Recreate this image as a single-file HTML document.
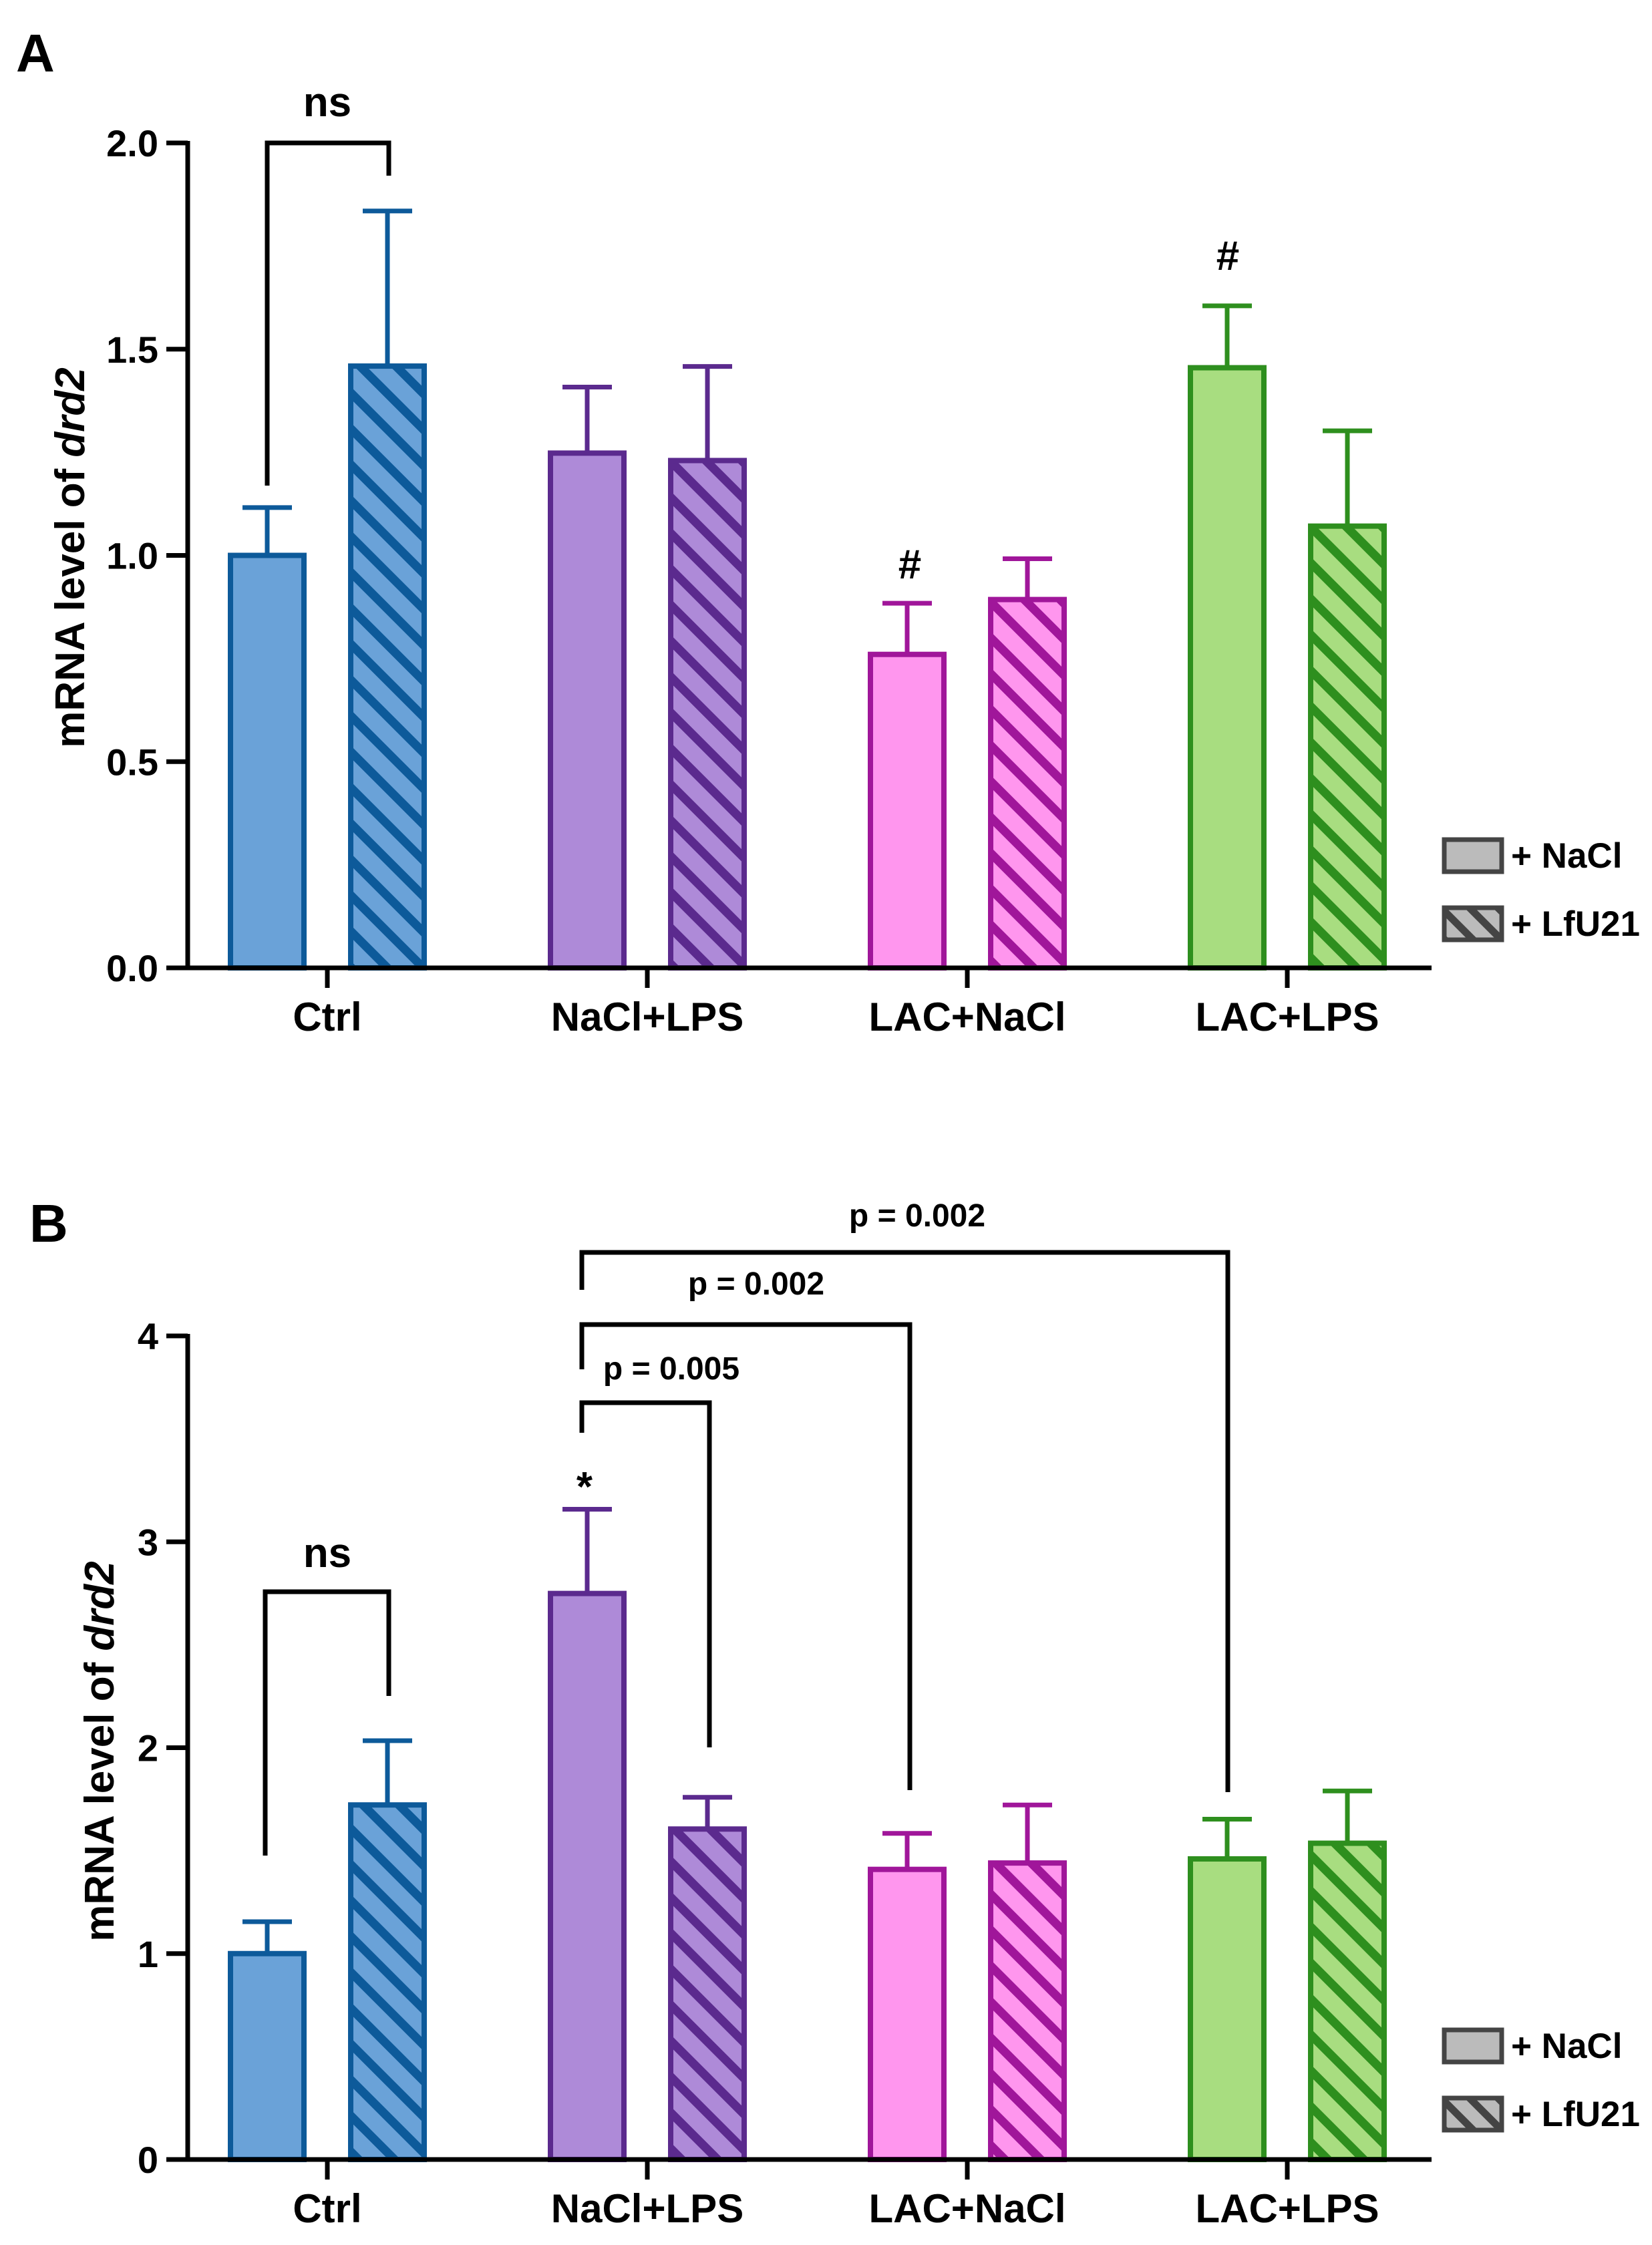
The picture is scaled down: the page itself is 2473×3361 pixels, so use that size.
<!DOCTYPE html>
<html><head><meta charset="utf-8"><style>
html,body{margin:0;padding:0;background:#fff;}
svg{display:block;font-family:"Liberation Sans",Arial,sans-serif;}
</style></head><body>
<svg id="fig" width="2473" height="3361" viewBox="0 0 2473 3361" xmlns="http://www.w3.org/2000/svg">
<defs>
<pattern id="h-blue" patternUnits="userSpaceOnUse" width="38" height="38" patternTransform="rotate(45)"><rect width="38" height="38" fill="#6aa2d8"/><rect width="38" height="13" fill="#0d5a9a"/></pattern>
<pattern id="h-purple" patternUnits="userSpaceOnUse" width="38" height="38" patternTransform="rotate(45)"><rect width="38" height="38" fill="#ae8ad8"/><rect width="38" height="13" fill="#5b2a8e"/></pattern>
<pattern id="h-pink" patternUnits="userSpaceOnUse" width="38" height="38" patternTransform="rotate(45)"><rect width="38" height="38" fill="#ff96ee"/><rect width="38" height="13" fill="#a0169a"/></pattern>
<pattern id="h-green" patternUnits="userSpaceOnUse" width="38" height="38" patternTransform="rotate(45)"><rect width="38" height="38" fill="#a8dd80"/><rect width="38" height="13" fill="#2e8f1e"/></pattern>
<pattern id="h-gray" patternUnits="userSpaceOnUse" width="30" height="30" patternTransform="rotate(45)"><rect width="30" height="30" fill="#bbbbbb"/><rect width="30" height="11" fill="#444"/></pattern>
</defs>
<g id="panelA"></g>
<g id="panelB"></g>
</svg>
<script>
const categories = ["Ctrl","NaCl+LPS","LAC+NaCl","LAC+LPS"];
const seriesNames = ["+ NaCl","+ LfU21"];
const aNaCl = [1.00,1.248,0.760,1.455];
const aNaClErr = [1.116,1.408,0.884,1.605];
const aLfU = [1.459,1.230,0.893,1.071];
const aLfUErr = [1.835,1.458,0.992,1.302];
const aTicks = [0,0.5,1.0,1.5,2.0];
const aTickLabels = ["0.0","0.5","1.0","1.5","2.0"];
const bNaCl = [1.00,2.749,1.409,1.460];
const bNaClErr = [1.155,3.158,1.584,1.653];
const bLfU = [1.722,1.605,1.440,1.536];
const bLfUErr = [2.034,1.759,1.722,1.790];
const bTicks = [0,1,2,3,4];
const bTickLabels = ["0","1","2","3","4"];

const NS="http://www.w3.org/2000/svg";
const fills=["#6aa2d8","#ae8ad8","#ff96ee","#a8dd80"];
const strokes=["#0d5a9a","#5b2a8e","#a0169a","#2e8f1e"];
const hatches=["h-blue","h-purple","h-pink","h-green"];
function mk(parent,tag,attrs,text){const e=document.createElementNS(NS,tag);for(const k in attrs)e.setAttribute(k,attrs[k]);if(text!==undefined)e.textContent=text;parent.appendChild(e);return e;}

function panel(g,cfg){
  const x0=281,x1=2143;
  const yS=v=>cfg.y0-(v-cfg.min)/(cfg.max-cfg.min)*(cfg.y0-cfg.yTop);
  const xS=i=>490+i*479;
  for(let i=0;i<categories.length;i++){
    [[cfg.nacl,cfg.naclErr,-90,fills[i],0],[cfg.lfu,cfg.lfuErr,90,"url(#"+hatches[i]+")",1]].forEach(s=>{
      const cx=xS(i)+s[2];const v=s[0][i],e=s[1][i];
      const ln=mk(g,"line",{x1:cx,x2:cx,y1:yS(v),y2:yS(e),stroke:strokes[i],"stroke-width":7});
      
      
      const cap=mk(g,"line",{x1:cx-37,x2:cx+37,y1:yS(e),y2:yS(e),stroke:strokes[i],"stroke-width":7});
      
      
      const r=mk(g,"rect",{x:cx-55,y:yS(v),width:110,height:yS(0)-yS(v),fill:s[3],stroke:strokes[i],"stroke-width":8});
      
      
    });
  }
  const ya=mk(g,"line",{x1:x0,x2:x0,y1:cfg.yTop-3,y2:cfg.y0+3,stroke:"#000","stroke-width":7});
  
  
  const xa=mk(g,"line",{x1:x0-3,x2:x1,y1:cfg.y0,y2:cfg.y0,stroke:"#000","stroke-width":7});
  
  
  cfg.ticks.forEach((t,k)=>{
    mk(g,"line",{x1:x0-32,x2:x0,y1:yS(t),y2:yS(t),stroke:"#000","stroke-width":7});
    const tl=mk(g,"text",{x:x0-44,y:yS(t)+20,"text-anchor":"end","font-size":56,"font-weight":"bold"},cfg.labels[k]);
    
    
  });
  categories.forEach((c,i)=>{
    mk(g,"line",{x1:xS(i),x2:xS(i),y1:cfg.y0,y2:cfg.y0+30,stroke:"#000","stroke-width":7});
    const t=mk(g,"text",{x:xS(i),y:cfg.y0+94,"text-anchor":"middle","font-size":60,"font-weight":"bold"},c);
    
    
  });
  const yt=mk(g,"text",{x:0,y:0,transform:`translate(${cfg.titleX},${cfg.titleY}) rotate(-90)`,"text-anchor":"middle","font-size":62,"font-weight":"bold"},"mRNA level of ");
  mk(yt,"tspan",{"font-style":"italic"},"drd2");
  
  
  const pl=mk(g,"text",{x:cfg.letterX,y:cfg.letterY,"font-size":80,"font-weight":"bold"},cfg.letter);
  
  
  seriesNames.forEach((n,k)=>{
    const y=cfg.legY+k*102;
    const r=mk(g,"rect",{x:2162,y:y,width:86,height:48,fill:k?"url(#h-gray)":"#bbbbbb",stroke:"#444","stroke-width":7});
    
    
    const t=mk(g,"text",{x:2262,y:y+42,"font-size":53,"font-weight":"bold"},n);
    
    
  });
  return {yS,xS};
}
function bracket(g,xl,yl,xr,yr,top,label,lx,ly,name){
  const p=mk(g,"path",{d:`M${xl},${yl} V${top} H${xr} V${yr}`,fill:"none",stroke:"#000","stroke-width":7});
  
  
  const t=mk(g,"text",{x:lx,y:ly,"text-anchor":"middle","font-size":label==="ns"?62:48,"font-weight":"bold"},label);
  
  
}
function mark(g,x,y,s,name,fs){
  const t=mk(g,"text",{x:x,y:y,"text-anchor":"middle","font-size":fs,"font-weight":"bold"},s);
  
  
}
const gA=document.getElementById('panelA');
panel(gA,{nacl:aNaCl,naclErr:aNaClErr,lfu:aLfU,lfuErr:aLfUErr,ticks:aTicks,labels:aTickLabels,min:0,max:2,y0:1449,yTop:214,titleX:126,titleY:835,letter:"A",letterX:24,letterY:107,legY:1257});
bracket(gA,400,727,582,263,214,"ns",490,174,"ns-bracket-a");
mark(gA,1362,866,"#","hash-lac-nacl",62);
mark(gA,1838,404,"#","hash-lac-lps",62);

const gB=document.getElementById('panelB');
panel(gB,{nacl:bNaCl,naclErr:bNaClErr,lfu:bLfU,lfuErr:bLfUErr,ticks:bTicks,labels:bTickLabels,min:0,max:4,y0:3233,yTop:2000,titleX:170,titleY:2622,letter:"B",letterX:44,letterY:1859,legY:3039});
bracket(gB,397,2778,582,2539,2383,"ns",490,2346,"ns-bracket-b");
bracket(gB,871,2145,1062,2616,2100,"p = 0.005",1005,2065,"p005-bracket");
bracket(gB,871,2050,1362,2680,1983,"p = 0.002",1132,1938,"p002-bracket-lac-nacl");
bracket(gB,871,1931,1838,2683,1875,"p = 0.002",1373,1836,"p002-bracket-lac-lps");
mark(gB,875,2247,"*","star-nacl-lps",62);
</script>
</body></html>
